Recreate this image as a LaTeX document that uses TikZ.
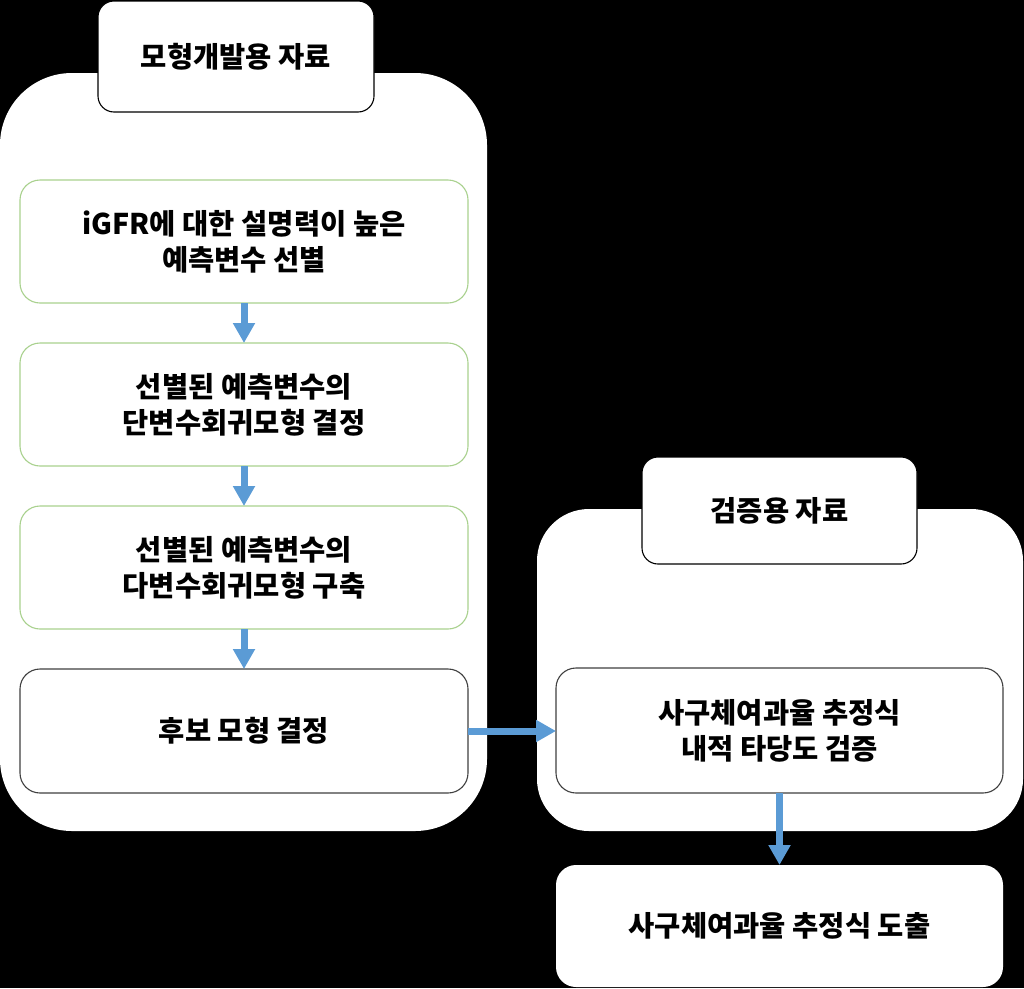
\documentclass[tikz,border=0pt]{standalone}
\usepackage{fontspec}
\setmainfont{Noto Sans CJK KR}
\usetikzlibrary{arrows.meta}
\definecolor{arrblue}{HTML}{5B9BD5}
\definecolor{boxgreen}{HTML}{A9D18E}
\definecolor{boxgray}{HTML}{404040}
\tikzset{
  txt/.style={font=\fontsize{28.5}{36}\selectfont\bfseries, align=center},
  container/.style={rectangle, fill=white, draw=none, inner sep=0pt, outer sep=0pt},
  header/.style={txt, rectangle, fill=white, draw=black, line width=1.1pt, rounded corners=16pt, inner sep=0pt, outer sep=0pt},
  greenbox/.style={txt, rectangle, fill=white, draw=boxgreen, line width=1.1pt, rounded corners=20pt, inner sep=0pt, outer sep=0pt, minimum width=448pt, minimum height=123pt},
  graybox/.style={txt, rectangle, fill=white, draw=boxgray, line width=1.1pt, rounded corners=20pt, inner sep=0pt, outer sep=0pt},
  plainbox/.style={txt, rectangle, fill=white, draw=none, rounded corners=20pt, inner sep=0pt, outer sep=0pt},
  arr/.style={draw=arrblue, line width=7pt, -{Triangle[width=21pt,length=20pt]}, arrblue},
}
\begin{document}
\begin{tikzpicture}[x=1pt,y=-1pt]
\useasboundingbox (0,0) rectangle (1024,988);
\fill[black] (0,0) rectangle (1024,988);
% containers
\node[container, rounded corners=72pt, minimum width=487pt, minimum height=758pt] (lc) at (243.5,452) {};
\node[container, rounded corners=52pt, minimum width=486pt, minimum height=322pt] (rc) at (780,670) {};
% headers
\node[header, minimum width=276pt, minimum height=111pt] (lh) at (236,56.5) {모형개발용 자료};
\node[header, minimum width=275pt, minimum height=107pt] (rh) at (779.5,510.5) {검증용 자료};
% left steps
\node[greenbox] (b1) at (244,241.5) {iGFR에 대한 설명력이 높은\\예측변수 선별};
\node[greenbox] (b2) at (244,404.5) {선별된 예측변수의\\단변수회귀모형 결정};
\node[greenbox] (b3) at (244,567.5) {선별된 예측변수의\\다변수회귀모형 구축};
\node[graybox, minimum width=448pt, minimum height=124pt] (b4) at (244,731) {후보 모형 결정};
% right steps
\node[graybox, minimum width=447pt, minimum height=125pt] (rb) at (779.5,730.5) {사구체여과율 추정식\\내적 타당도 검증};
\node[plainbox, minimum width=447pt, minimum height=122pt] (fin) at (779.5,926) {사구체여과율 추정식 도출};
% arrows
\draw[arr] (b1.south) -- (b2.north);
\draw[arr] (b2.south) -- (b3.north);
\draw[arr] (b3.south) -- (b4.north);
\draw[arr] (b4.east) -- (b4.east -| rb.west);
\draw[arr] (rb.south -| fin.north) -- (fin.north);
\end{tikzpicture}
\end{document}
